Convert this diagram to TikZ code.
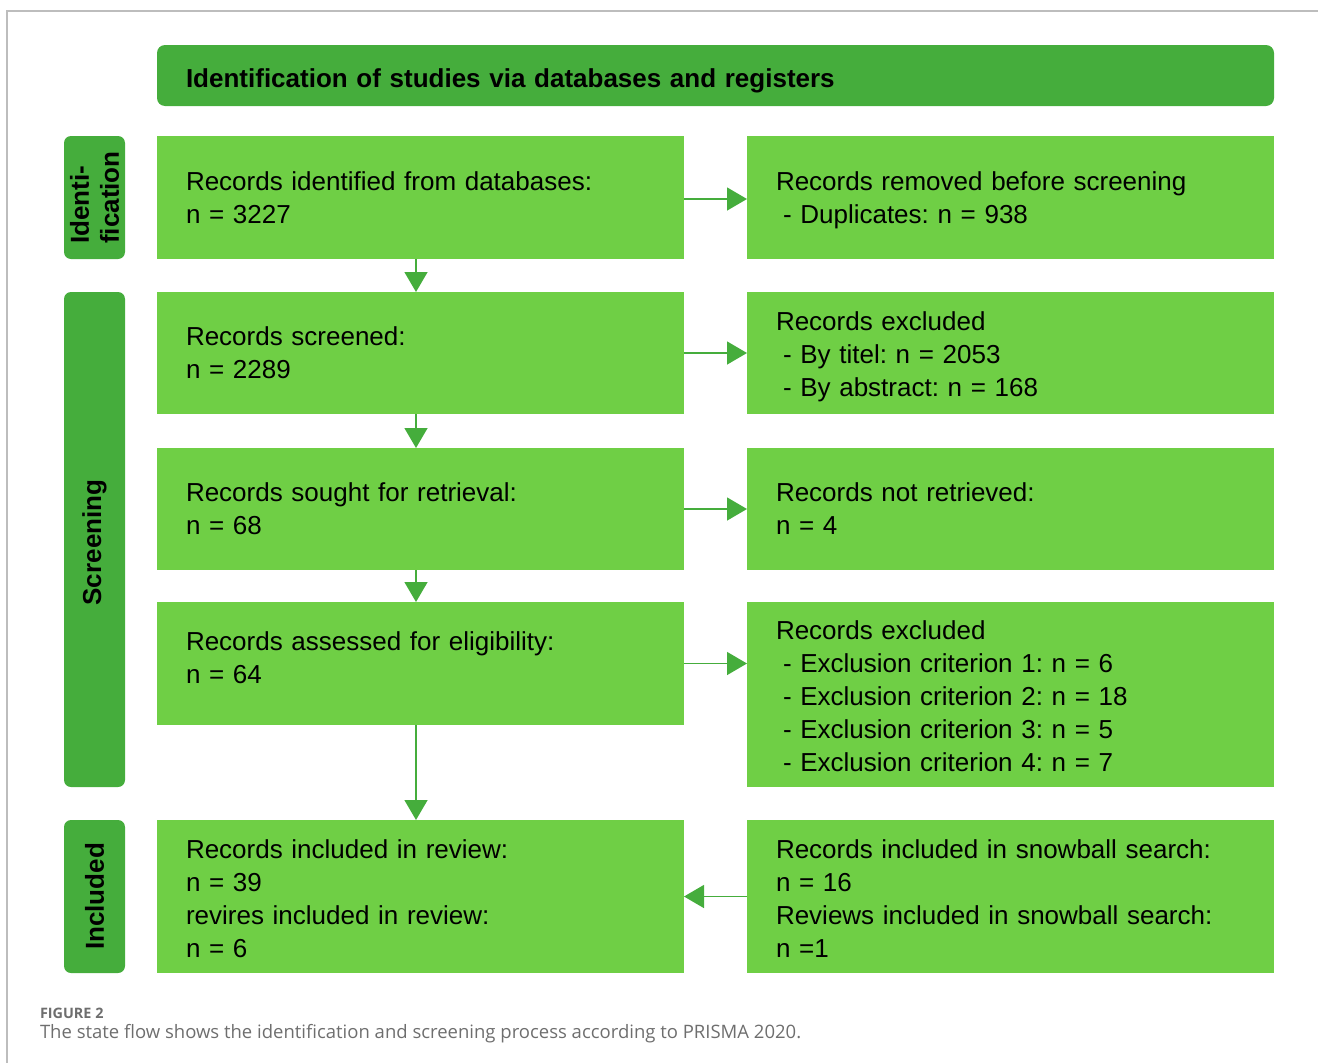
\documentclass[tikz,border=0pt]{standalone}
\usepackage{fontspec}
\setmainfont{Liberation Sans}
\newfontfamily\capfont{Open Sans}
\usetikzlibrary{arrows.meta}

\definecolor{hdrgreen}{HTML}{45AD3C}
\definecolor{boxgreen}{HTML}{6FCF45}
\definecolor{framegray}{HTML}{BDBDBD}
\definecolor{capgray}{HTML}{6E6E6E}

\newcommand{\dashitem}{\hspace*{7pt}- }
% struts that fix the first line height and the last line depth of a box text
\newcommand{\topstrut}{\rule{0pt}{25.6pt}}
\newcommand{\flowdepth}{7pt}

\begin{document}
\frenchspacing
\begin{tikzpicture}[x=1pt,y=-1pt,
  every node/.style={inner sep=0pt,outer sep=0pt},
  lastdepth/.code={\renewcommand{\flowdepth}{#1}},
  flowbox/.style={fill=boxgreen, anchor=north west,
    minimum width=527pt, text width=469pt, inner xsep=29pt,
    align=left, font=\fontsize{26}{33}\selectfont, lastdepth=7pt,
    execute at begin node=\topstrut,
    execute at end node={\rule[-\flowdepth]{0pt}{\flowdepth}}},
  phase/.style={fill=hdrgreen, rounded corners=7pt, rotate=90,
    minimum height=61pt, align=left,
    font=\fontsize{26}{30}\selectfont\bfseries},
  flowarrow/.style={draw=hdrgreen, line width=1.5pt,
    -{Triangle[width=23pt,length=20pt]}, fill=hdrgreen}
]
% canvas and frame
\useasboundingbox (0,0) rectangle (1318,1063);
\draw[framegray, line width=1.5pt] (1318,11) -- (7,11) -- (7,1063);

% header bar
\node[fill=hdrgreen, rounded corners=8pt, anchor=north west,
  minimum width=1117pt, minimum height=61pt, text width=1059pt,
  inner xsep=29pt, align=left, font=\fontsize{26}{30}\selectfont\bfseries]
  (hdr) at (157,45) {\rule{0pt}{29.6pt}Identification of studies via databases and registers\rule[-6pt]{0pt}{6pt}};

% phase labels
\node[phase, minimum width=123pt] (phid) at (94.5,197.5) {Identi-\\fication};
\node[phase, minimum width=495pt] (phscr) at (94.5,539.5) {Screening\hspace*{6pt}};
\node[phase, minimum width=153pt] (phinc) at (94.5,896.5) {Included};

% left column
\node[flowbox, minimum height=123pt] (id) at (157,136)
  {Records identified from databases:\\n = 3227};
\node[flowbox, minimum height=122pt] (scr) at (157,292)
  {Records screened:\\n = 2289};
\node[flowbox, minimum height=122pt] (ret) at (157,448)
  {Records sought for retrieval:\\n = 68};
\node[flowbox, minimum height=123pt, lastdepth=19pt] (elig) at (157,602)
  {Records assessed for eligibility:\\n = 64};
\node[flowbox, minimum height=153pt, lastdepth=2pt] (incl) at (157,820)
  {Records included in review:\\n = 39\\revires included in review:\\n = 6};

% right column
\node[flowbox, minimum height=123pt] (rem) at (747,136)
  {Records removed before screening\\\dashitem Duplicates: n = 938};
\node[flowbox, minimum height=122pt, lastdepth=3pt] (excA) at (747,292)
  {Records excluded\\\dashitem By titel: n = 2053\\\dashitem By abstract: n = 168};
\node[flowbox, minimum height=122pt] (notret) at (747,448)
  {Records not retrieved:\\n = 4};
\node[flowbox, minimum height=185pt, lastdepth=3pt] (excB) at (747,602)
  {Records excluded\\\dashitem Exclusion criterion 1: n = 6\\\dashitem Exclusion criterion 2: n = 18\\\dashitem Exclusion criterion 3: n = 5\\\dashitem Exclusion criterion 4: n = 7};
\node[flowbox, minimum height=153pt, lastdepth=2pt] (snow) at (747,820)
  {Records included in snowball search:\\n = 16\\Reviews included in snowball search:\\n =1};

% vertical flow
\draw[flowarrow] ([xshift=-4.5pt]id.south) -- ([xshift=-4.5pt]scr.north);
\draw[flowarrow] ([xshift=-4.5pt]scr.south) -- ([xshift=-4.5pt]ret.north);
\draw[flowarrow] ([xshift=-4.5pt]ret.south) -- ([xshift=-4.5pt]elig.north);
\draw[flowarrow] ([xshift=-4.5pt]elig.south) -- ([xshift=-4.5pt]incl.north);

% side flow
\draw[flowarrow] ([yshift=-1.5pt]id.east) -- ([yshift=-1.5pt]rem.west);
\draw[flowarrow] (scr.east) -- (excA.west);
\draw[flowarrow] (ret.east) -- (notret.west);
\draw[flowarrow] (elig.east) -- (elig.east -| excB.west);
\draw[flowarrow] (snow.west) -- (incl.east);

% caption
\node[anchor=base west, text=capgray, font=\capfont\fontsize{14.4}{16}\selectfont\bfseries]
  (fig) at (40,1018) {FIGURE 2};
\node[anchor=base west, text=capgray, font=\capfont\fontsize{18.5}{20}\selectfont]
  (cap) at (40,1038) {The state flow shows the identification and screening process according to PRISMA 2020.};
\end{tikzpicture}
\end{document}
